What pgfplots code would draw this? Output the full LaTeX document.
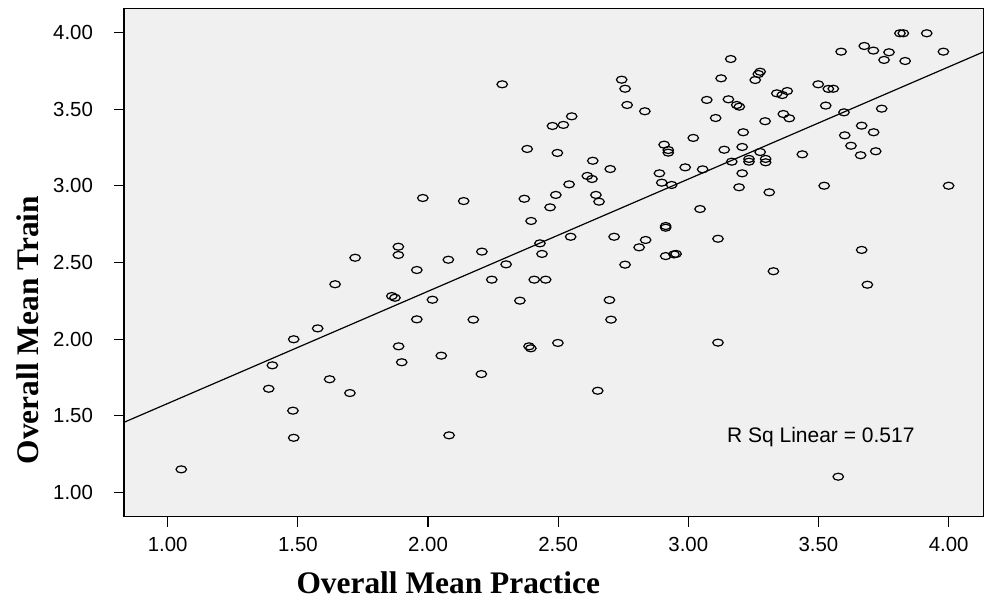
\documentclass[border=0pt]{standalone}
\usepackage{fontspec}
\setmainfont{Liberation Sans}
\newfontfamily\labelfont{Liberation Serif}
\usepackage{pgfplots}
\pgfplotsset{compat=1.18}
\definecolor{plotbg}{RGB}{240,240,240}

\pgfplotstableread{
x y
1.720 2.531
1.886 2.603
1.886 2.549
1.957 2.451
1.643 2.358
1.861 2.281
1.873 2.270
1.957 2.129
1.576 2.070
1.484 1.999
1.402 1.829
1.887 1.953
1.899 1.849
1.622 1.738
1.388 1.676
1.700 1.648
1.481 1.533
1.484 1.356
1.052 1.150
2.285 3.663
2.744 3.693
2.757 3.634
2.765 3.528
2.833 3.487
2.552 3.454
2.478 3.391
2.520 3.398
3.019 3.313
2.907 3.269
2.923 3.234
2.923 3.217
2.381 3.241
2.497 3.215
2.633 3.164
2.700 3.110
2.988 3.121
3.055 3.108
2.612 3.065
2.630 3.045
2.542 3.010
2.889 3.082
2.898 3.021
2.936 3.006
1.980 2.921
2.137 2.901
2.370 2.916
2.491 2.941
2.469 2.860
2.645 2.941
2.657 2.897
3.045 2.849
2.396 2.771
2.913 2.738
2.913 2.727
2.548 2.668
2.430 2.625
2.715 2.668
2.836 2.647
2.811 2.599
2.438 2.556
2.207 2.571
2.078 2.518
2.300 2.488
2.757 2.486
2.913 2.542
2.953 2.556
2.945 2.553
3.813 3.996
3.826 3.996
3.916 3.996
3.587 3.876
3.676 3.913
3.711 3.883
3.771 3.872
3.752 3.822
3.833 3.815
3.980 3.876
3.163 3.828
3.126 3.702
3.276 3.745
3.269 3.730
3.257 3.691
3.340 3.604
3.361 3.593
3.380 3.619
3.499 3.663
3.538 3.633
3.557 3.634
3.071 3.561
3.154 3.565
3.186 3.528
3.196 3.517
3.528 3.524
3.598 3.480
3.743 3.504
3.105 3.443
3.295 3.422
3.365 3.469
3.388 3.441
3.211 3.350
3.666 3.393
3.712 3.350
3.601 3.330
3.625 3.262
3.662 3.200
3.720 3.226
3.138 3.236
3.207 3.254
3.276 3.221
3.167 3.158
3.233 3.176
3.233 3.158
3.297 3.176
3.297 3.154
3.438 3.206
3.207 3.082
3.195 2.991
3.311 2.958
3.522 3.001
4.000 3.001
3.114 2.655
3.666 2.582
3.327 2.443
2.017 2.257
2.245 2.388
2.408 2.388
2.452 2.388
2.353 2.251
2.697 2.255
2.174 2.127
2.703 2.127
2.388 1.953
2.395 1.940
2.499 1.975
2.051 1.892
2.205 1.772
2.652 1.663
2.081 1.372
3.688 2.355
3.114 1.977
3.576 1.102
}\practicetrain

\begin{document}
\begin{tikzpicture}[x=1pt,y=1pt]
\useasboundingbox (-62,-44.65) rectangle (430,258.35);
\begin{axis}[
    at={(0,0)}, anchor=south west,
    scale only axis,
    width=430pt, height=254.2pt,
    xmin=0.832, xmax=4.136,
    ymin=0.841, ymax=4.159,
    axis background/.style={fill=plotbg},
    axis line style={line width=0.6pt},
    tick align=outside, tick pos=left,
    major tick length=5pt,
    tick style={line width=0.6pt, black},
    xtick={1,1.5,2,2.5,3,3.5,4},
    ytick={1,1.5,2,2.5,3,3.5,4},
    tick label style={font=\fontsize{10.2}{12}\selectfont},
    ticklabel style={/pgf/number format/fixed, /pgf/number format/fixed zerofill,
        /pgf/number format/precision=2, /pgf/number format/assume math mode=true},
    xticklabel style={yshift=-1.6pt},
    yticklabel style={xshift=-7pt},
    xlabel={Overall Mean Practice},
    ylabel={Overall Mean Train},
    xlabel style={at={(axis description cs:0.377,-0.1304)}, anchor=center,
        font=\labelfont\bfseries\fontsize{15.7}{18}\selectfont},
    ylabel style={at={(axis description cs:-0.1116,0.367)}, anchor=center,
        font=\labelfont\bfseries\fontsize{15.7}{18}\selectfont},
]
\addplot[only marks, mark=o, mark size=1.75pt,
    mark options={xscale=1.5, line width=0.6pt, black}] table {\practicetrain};
\addplot[black, line width=0.6pt, mark=none] coordinates {(0.832,1.457) (4.136,3.876)};
\node[font=\fontsize{10.5}{12}\selectfont, anchor=center] at (axis cs:3.509,1.359) {R Sq Linear = 0.517};
\end{axis}
\end{tikzpicture}
\end{document}
